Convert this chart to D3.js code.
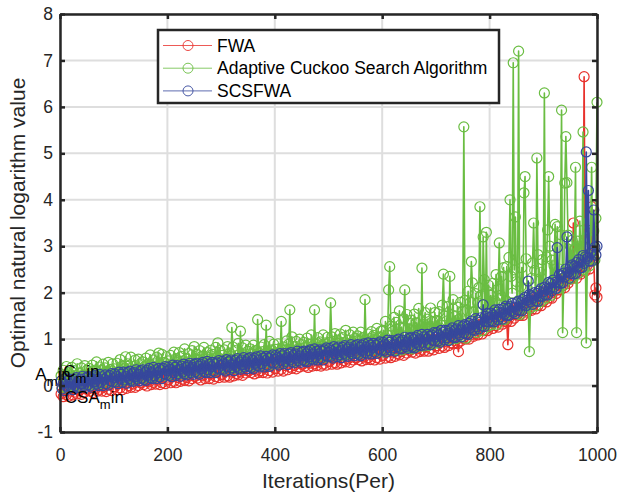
<!DOCTYPE html>
<html>
<head>
<meta charset="utf-8">
<script src="https://cdn.jsdelivr.net/npm/d3@7"></script>
<style>
  body { margin: 0; background: #fff; }
  svg { display: block; font-family: "Liberation Sans", Arial, sans-serif; }
</style>
</head>
<body>
<div class="Canvas"></div>
<script>
// iterations sampled every 2 steps (25 per row below = 50 iterations)
const iterations = d3.range(2, 1001, 2);

// optimal natural logarithm value
const fwaValues = [
  -0.18, -0.03, -0.24, -0.09, 0.01, -0.20, -0.05, -0.23, 0.00, -0.12, -0.02, -0.20, 0.04, -0.14, -0.04, -0.18, 0.03, -0.11, 0.00, -0.19, -0.04, 0.03, -0.14, 0.07, -0.08,
  -0.08, 0.08, -0.12, 0.05, -0.02, -0.15, 0.04, -0.07, 0.09, -0.12, 0.02, -0.08, 0.12, -0.12, 0.07, -0.03, 0.10, -0.13, 0.06, -0.08, 0.13, 0.04, -0.11, 0.11, -0.03,
  -0.03, 0.12, -0.09, 0.06, 0.15, -0.05, 0.10, -0.09, 0.15, 0.03, 0.13, -0.06, 0.19, 0.00, 0.10, -0.04, 0.18, 0.03, 0.14, -0.04, 0.10, 0.17, 0.00, 0.21, 0.06,
  0.06, 0.22, 0.02, 0.19, 0.13, -0.01, 0.18, 0.08, 0.23, 0.02, 0.17, 0.07, 0.26, 0.03, 0.22, 0.12, 0.24, 0.02, 0.21, 0.06, 0.28, 0.19, 0.04, 0.26, 0.12,
  0.12, 0.27, 0.06, 0.21, 0.30, 0.09, 0.25, 0.06, 0.29, 0.17, 0.28, 0.09, 0.33, 0.14, 0.25, 0.11, 0.32, 0.17, 0.29, 0.10, 0.24, 0.31, 0.15, 0.35, 0.20,
  0.20, 0.36, 0.16, 0.33, 0.26, 0.12, 0.32, 0.21, 0.36, 0.15, 0.30, 0.20, 0.39, 0.15, 0.35, 0.25, 0.37, 0.14, 0.34, 0.19, 0.40, 0.31, 0.17, 0.38, 0.24,
  0.24, 0.39, 0.18, 0.33, 0.42, 0.21, 0.37, 0.18, 0.41, 0.29, 0.40, 0.21, 0.45, 0.26, 0.37, 0.23, 0.44, 0.29, 0.41, 0.22, 0.36, 0.43, 0.27, 0.47, 0.32,
  0.32, 0.48, 0.28, 0.45, 0.38, 0.25, 0.44, 0.33, 0.49, 0.28, 0.42, 0.32, 0.52, 0.28, 0.47, 0.38, 0.50, 0.27, 0.46, 0.32, 0.53, 0.44, 0.29, 0.51, 0.37,
  0.37, 0.52, 0.31, 0.46, 0.55, 0.35, 0.50, 0.31, 0.55, 0.43, 0.53, 0.34, 0.59, 0.40, 0.50, 0.37, 0.58, 0.43, 0.54, 0.36, 0.50, 0.57, 0.40, 0.61, 0.46,
  0.46, 0.62, 0.42, 0.59, 0.53, 0.39, 0.58, 0.48, 0.63, 0.42, 0.57, 0.47, 0.66, 0.43, 0.62, 0.52, 0.64, 0.42, 0.61, 0.46, 0.68, 0.59, 0.44, 0.66, 0.52,
  0.52, 0.67, 0.46, 0.61, 0.70, 0.49, 0.65, 0.46, 0.69, 0.57, 0.68, 0.49, 0.73, 0.54, 0.65, 0.51, 0.72, 0.57, 0.69, 0.50, 0.64, 0.71, 0.55, 0.75, 0.60,
  0.60, 0.76, 0.56, 0.73, 0.66, 0.53, 0.72, 0.61, 0.77, 0.56, 0.70, 0.60, 0.80, 0.56, 0.75, 0.66, 0.78, 0.55, 0.74, 0.60, 0.81, 0.72, 0.57, 0.79, 0.65,
  0.65, 0.80, 0.59, 0.74, 0.84, 0.63, 0.79, 0.60, 0.83, 0.72, 0.82, 0.63, 0.88, 0.69, 0.79, 0.66, 0.87, 0.73, 0.84, 0.65, 0.80, 0.87, 0.70, 0.91, 0.76,
  0.76, 0.92, 0.72, 0.90, 0.83, 0.70, 0.89, 0.79, 0.94, 0.73, 0.88, 0.78, 0.98, 0.74, 0.94, 0.84, 0.97, 0.74, 0.93, 0.79, 1.00, 0.92, 0.77, 0.99, 0.85,
  0.86, 1.00, 0.80, 0.95, 1.05, 0.85, 1.00, 0.82, 1.05, 0.94, 1.05, 0.86, 1.11, 0.92, 1.03, 0.90, 1.11, 0.97, 1.08, 0.90, 0.73, 1.12, 0.96, 1.16, 1.02,
  1.03, 1.19, 1.00, 1.18, 1.12, 1.00, 1.20, 1.10, 1.26, 1.06, 1.21, 1.12, 1.32, 1.09, 1.29, 1.20, 1.33, 1.11, 1.32, 1.18, 1.40, 1.32, 1.18, 1.40, 1.27,
  1.28, 1.43, 1.23, 1.39, 1.49, 1.29, 1.44, 1.26, 1.50, 1.39, 1.50, 1.32, 1.57, 1.39, 1.50, 1.37, 0.88, 1.45, 1.57, 1.38, 1.53, 1.61, 1.45, 1.66, 1.52,
  1.53, 1.70, 1.51, 1.69, 1.63, 1.51, 1.71, 1.61, 1.78, 1.58, 1.73, 1.64, 1.85, 1.62, 1.82, 1.74, 1.87, 1.65, 1.85, 1.72, 1.94, 1.86, 1.72, 1.95, 1.82,
  1.84, 2.00, 1.80, 1.97, 2.08, 1.89, 2.06, 1.88, 2.13, 2.03, 2.15, 1.98, 2.23, 2.06, 2.18, 2.06, 2.29, 2.15, 2.28, 2.11, 2.27, 2.36, 2.20, 2.42, 2.29,
  2.31, 2.48, 3.50, 2.48, 2.43, 2.31, 2.52, 2.42, 2.59, 2.40, 2.56, 2.48, 6.65, 2.46, 2.67, 2.59, 2.73, 2.51, 2.72, 3.85, 2.82, 2.75, 1.95, 2.10, 1.90
];

const acsaValues = [
  0.21, -0.06, 0.33, -0.03, 0.16, 0.41, -0.06, 0.28, 0.02, 0.21, 0.39, -0.02, 0.32, -0.03, 0.16, 0.47, 0.02, 0.27, -0.02, 0.38, 0.22, 0.03, 0.43, 0.02, 0.33,
  0.02, 0.37, 0.01, 0.27, 0.44, 0.06, 0.33, 0.03, 0.51, 0.24, 0.06, 0.40, 0.04, 0.32, 0.46, 0.11, 0.38, 0.05, 0.28, 0.50, 0.10, 0.35, 0.07, 0.47, 0.23,
  0.36, 0.09, 0.48, 0.12, 0.30, 0.56, 0.09, 0.42, 0.17, 0.36, 0.62, 0.12, 0.47, 0.12, 0.30, 0.61, 0.17, 0.41, 0.12, 0.55, 0.36, 0.17, 0.57, 0.16, 0.47,
  0.16, 0.51, 0.15, 0.41, 0.59, 0.20, 0.47, 0.18, 0.66, 0.38, 0.20, 0.55, 0.18, 0.47, 0.61, 0.25, 0.70, 0.20, 0.43, 0.67, 0.25, 0.50, 0.22, 0.62, 0.38,
  0.53, 0.23, 0.65, 0.27, 0.46, 0.72, 0.23, 0.58, 0.30, 0.51, 0.71, 0.27, 0.63, 0.25, 0.45, 0.79, 0.31, 0.57, 0.27, 0.69, 0.52, 0.30, 0.75, 0.29, 0.84,
  0.30, 0.67, 0.28, 0.56, 0.75, 0.33, 0.63, 0.30, 0.82, 0.52, 0.34, 0.71, 0.31, 0.60, 0.76, 0.38, 0.67, 0.31, 0.58, 0.82, 0.36, 0.92, 0.34, 0.76, 0.51,
  0.65, 0.35, 0.77, 0.39, 0.58, 0.84, 0.35, 0.70, 0.42, 1.25, 0.83, 0.39, 0.75, 0.37, 0.57, 0.91, 0.43, 1.17, 0.39, 0.81, 0.64, 0.42, 0.87, 0.41, 0.74,
  0.42, 0.79, 0.40, 0.68, 0.87, 0.46, 0.75, 0.42, 1.42, 0.65, 0.46, 0.83, 0.44, 0.73, 0.88, 0.51, 1.30, 0.44, 0.70, 0.95, 0.49, 0.77, 0.46, 0.89, 0.64,
  0.78, 0.48, 0.90, 0.52, 0.71, 1.38, 0.48, 0.83, 0.56, 0.77, 0.96, 0.52, 0.89, 1.63, 0.70, 1.05, 0.57, 0.83, 0.52, 0.95, 0.78, 0.56, 1.00, 0.55, 0.88,
  0.56, 0.93, 0.54, 0.82, 1.02, 0.60, 0.89, 0.57, 1.09, 0.79, 0.61, 1.63, 0.58, 0.88, 1.03, 0.65, 0.94, 0.59, 0.85, 1.09, 0.64, 0.92, 0.61, 1.04, 0.79,
  0.93, 1.78, 1.05, 0.67, 0.86, 1.12, 0.63, 0.98, 0.70, 0.91, 1.11, 0.67, 1.03, 0.65, 0.85, 1.19, 0.71, 0.97, 0.67, 1.09, 0.92, 0.70, 1.15, 0.69, 1.02,
  0.70, 1.07, 0.68, 0.96, 1.15, 0.74, 1.03, 0.70, 1.85, 0.93, 0.74, 1.11, 0.72, 1.01, 1.16, 0.79, 1.08, 0.72, 0.98, 1.23, 0.77, 1.05, 0.74, 1.17, 0.92,
  1.19, 0.72, 1.38, 0.78, 1.09, 2.06, 2.56, 1.28, 0.86, 1.17, 1.47, 0.77, 1.36, 0.76, 1.06, 1.61, 0.84, 1.26, 0.77, 1.44, 2.06, 0.84, 1.53, 0.81, 1.34,
  0.82, 1.41, 0.79, 1.24, 1.54, 0.89, 1.35, 0.84, 1.66, 1.18, 0.89, 2.53, 0.85, 1.32, 1.57, 0.95, 1.43, 0.86, 1.26, 1.67, 0.94, 1.38, 0.90, 1.57, 1.17,
  1.40, 0.92, 1.59, 0.99, 1.30, 1.73, 2.40, 1.50, 1.06, 1.39, 1.70, 0.99, 2.35, 0.99, 1.30, 1.85, 1.08, 1.50, 1.01, 1.69, 1.42, 1.09, 1.79, 1.06, 1.60,
  5.57, 1.84, 1.02, 1.62, 2.03, 1.17, 1.79, 2.67, 2.21, 1.58, 1.19, 1.98, 1.14, 1.78, 2.11, 3.85, 1.94, 1.18, 3.20, 2.28, 1.31, 3.30, 1.27, 2.16, 1.64,
  1.94, 1.31, 2.20, 1.41, 1.82, 2.39, 1.32, 2.08, 3.07, 1.94, 2.35, 1.43, 2.54, 1.42, 1.83, 2.56, 1.55, 2.76, 4.00, 2.35, 1.99, 6.95, 2.49, 3.63, 2.24,
  1.56, 7.20, 1.53, 2.13, 2.54, 1.68, 4.15, 4.50, 2.73, 2.10, 1.71, 0.73, 1.67, 2.31, 2.64, 3.50, 2.48, 1.72, 4.90, 2.82, 1.85, 2.44, 1.81, 2.71, 2.19,
  6.30, 1.88, 2.77, 3.35, 4.50, 3.00, 1.94, 2.70, 2.13, 2.58, 3.47, 2.09, 3.42, 2.09, 2.51, 3.25, 5.93, 1.14, 2.16, 4.36, 5.36, 4.37, 3.24, 2.29, 3.01,
  2.34, 3.13, 2.31, 2.92, 4.70, 1.14, 3.11, 2.43, 3.54, 2.92, 2.54, 5.46, 2.50, 3.15, 0.92, 2.69, 3.34, 2.58, 3.14, 4.70, 2.73, 3.33, 2.70, 3.60, 6.10
];

const scsfwaValues = [
  0.10, -0.07, 0.05, -0.11, 0.15, -0.01, 0.09, -0.07, 0.14, -0.03, 0.06, -0.09, 0.13, 0.00, 0.17, -0.04, 0.10, -0.05, 0.14, 0.04, 0.20, 0.00, 0.10, -0.04, 0.18,
  0.02, 0.20, -0.01, 0.14, -0.04, 0.19, 0.08, 0.22, 0.03, 0.14, 0.00, 0.24, 0.07, 0.19, 0.00, 0.14, 0.23, 0.04, 0.19, 0.01, 0.22, 0.10, 0.26, 0.08, 0.17,
  0.25, 0.08, 0.20, 0.04, 0.29, 0.14, 0.24, 0.07, 0.29, 0.12, 0.20, 0.05, 0.28, 0.15, 0.31, 0.11, 0.25, 0.09, 0.28, 0.19, 0.34, 0.14, 0.24, 0.10, 0.32,
  0.16, 0.34, 0.13, 0.28, 0.11, 0.33, 0.22, 0.37, 0.17, 0.28, 0.15, 0.39, 0.21, 0.34, 0.15, 0.28, 0.37, 0.19, 0.34, 0.15, 0.37, 0.25, 0.41, 0.23, 0.32,
  0.40, 0.22, 0.35, 0.19, 0.44, 0.28, 0.39, 0.22, 0.43, 0.26, 0.35, 0.20, 0.42, 0.29, 0.46, 0.25, 0.39, 0.23, 0.43, 0.33, 0.48, 0.28, 0.39, 0.24, 0.46,
  0.30, 0.48, 0.27, 0.42, 0.24, 0.46, 0.36, 0.50, 0.30, 0.41, 0.28, 0.52, 0.34, 0.46, 0.28, 0.41, 0.50, 0.31, 0.47, 0.28, 0.49, 0.37, 0.54, 0.35, 0.44,
  0.52, 0.35, 0.47, 0.31, 0.56, 0.40, 0.51, 0.34, 0.55, 0.38, 0.47, 0.32, 0.54, 0.41, 0.58, 0.37, 0.51, 0.35, 0.55, 0.45, 0.60, 0.40, 0.51, 0.36, 0.58,
  0.42, 0.60, 0.39, 0.54, 0.36, 0.59, 0.48, 0.62, 0.43, 0.54, 0.40, 0.64, 0.47, 0.59, 0.40, 0.54, 0.63, 0.44, 0.59, 0.41, 0.62, 0.50, 0.66, 0.48, 0.57,
  0.65, 0.48, 0.60, 0.44, 0.69, 0.54, 0.64, 0.47, 0.69, 0.52, 0.60, 0.45, 0.68, 0.55, 0.71, 0.51, 0.65, 0.49, 0.68, 0.59, 0.74, 0.54, 0.64, 0.50, 0.72,
  0.56, 0.74, 0.53, 0.68, 0.51, 0.73, 0.62, 0.77, 0.57, 0.68, 0.55, 0.79, 0.61, 0.74, 0.55, 0.68, 0.77, 0.59, 0.74, 0.55, 0.77, 0.65, 0.81, 0.63, 0.72,
  0.80, 0.63, 0.75, 0.59, 0.84, 0.68, 0.79, 0.62, 0.83, 0.66, 0.75, 0.60, 0.82, 0.69, 0.86, 0.65, 0.79, 0.63, 0.83, 0.73, 0.88, 0.68, 0.79, 0.64, 0.86,
  0.70, 0.88, 0.67, 0.82, 0.64, 0.87, 0.76, 0.90, 0.71, 0.82, 0.68, 0.92, 0.75, 0.87, 0.68, 0.82, 0.91, 0.72, 0.87, 0.69, 0.90, 0.78, 0.94, 0.76, 0.85,
  0.93, 0.76, 0.88, 0.72, 0.98, 0.82, 0.93, 0.76, 0.97, 0.81, 0.89, 0.74, 0.97, 0.84, 1.00, 0.80, 0.94, 0.79, 0.98, 0.88, 1.04, 0.84, 0.94, 0.80, 1.02,
  0.86, 1.04, 0.83, 0.99, 0.81, 1.04, 0.93, 1.08, 0.88, 0.99, 0.86, 1.10, 0.93, 1.05, 0.87, 1.00, 1.10, 0.91, 1.06, 0.88, 1.09, 0.98, 1.14, 0.96, 1.05,
  1.14, 0.96, 1.09, 0.93, 1.19, 1.04, 1.14, 0.98, 1.19, 1.03, 1.12, 0.97, 1.20, 1.07, 1.24, 1.04, 1.18, 1.03, 1.22, 1.13, 1.29, 1.09, 1.20, 1.05, 1.28,
  1.13, 1.31, 1.11, 1.27, 1.10, 1.34, 1.24, 1.39, 1.20, 1.32, 1.19, 1.44, 1.27, 1.40, 1.22, 1.36, 1.46, 1.28, 1.74, 1.27, 1.49, 1.38, 1.55, 1.37, 1.47,
  1.56, 1.39, 1.52, 1.37, 1.63, 1.48, 1.58, 1.42, 1.64, 1.48, 1.57, 1.43, 1.66, 1.54, 1.71, 1.51, 1.66, 1.51, 1.71, 1.61, 1.77, 1.58, 1.69, 1.55, 1.78,
  1.63, 1.82, 1.62, 1.78, 1.61, 1.85, 1.75, 1.90, 1.72, 1.84, 2.25, 1.96, 1.80, 1.93, 1.75, 1.90, 2.00, 1.82, 1.98, 1.81, 2.03, 1.92, 2.09, 1.92, 2.02,
  2.12, 1.96, 2.09, 1.95, 2.22, 2.08, 2.20, 2.04, 2.27, 2.12, 2.22, 2.09, 2.97, 2.21, 2.39, 2.20, 2.36, 2.21, 2.42, 2.34, 2.51, 3.20, 2.44, 2.31, 2.55,
  2.41, 2.60, 2.40, 2.57, 2.41, 2.65, 2.56, 2.71, 2.53, 2.66, 2.54, 2.80, 2.63, 2.77, 5.03, 2.74, 4.20, 2.68, 2.85, 2.68, 2.91, 3.78, 2.98, 2.81, 3.00
];

const seriesNames = ['FWA', 'Adaptive Cuckoo Search Algorithm', 'SCSFWA'];
const seriesColors = ['#e8312c', '#6abd42', '#37489c'];
const xTicks = [0, 200, 400, 600, 800, 1000];
const yTicks = [-1, 0, 1, 2, 3, 4, 5, 6, 7, 8];

// stray TeX labels from the original figure: A_min, C_min, CSA_min
const noteBase = ['A', 'C', 'CSA'];
const noteX = [-46, 6, 9];
const noteY = [0.12, 0.19, -0.37];

const width = 619;
const height = 493;
const plotLeft = 60, plotRight = 597, plotTop = 14, plotBottom = 432;
const tickFont = '17.5px';
const labelFont = '21px';
const axisColor = '#262626';

const x = d3.scaleLinear().domain([0, 1000]).range([plotLeft, plotRight]);
const y = d3.scaleLinear().domain([-1, 8]).range([plotBottom, plotTop]);

const svg = d3.select('.Canvas').append('svg').attr('width', width).attr('height', height);

// grid
const grid = svg.append('g');
grid.selectAll('line.gx').data(xTicks).enter().append('line')
  .attr('x1', (d) => x(d)).attr('x2', (d) => x(d))
  .attr('y1', plotTop).attr('y2', plotBottom)
  .attr('stroke', '#dedede').attr('stroke-width', 2);
grid.selectAll('line.gy').data(yTicks).enter().append('line')
  .attr('x1', plotLeft).attr('x2', plotRight)
  .attr('y1', (d) => y(d)).attr('y2', (d) => y(d))
  .attr('stroke', '#dedede').attr('stroke-width', 2);

// series, red first, blue on top
const allSeries = [fwaValues, acsaValues, scsfwaValues];
const line = d3.line().x((d, i) => x(iterations[i])).y((d) => y(d));
for (let s = 0; s < allSeries.length; s++) {
  const g = svg.append('g');
  g.append('path')
    .datum(allSeries[s])
    .attr('d', line)
    .attr('fill', 'none')
    .attr('stroke', seriesColors[s])
    .attr('stroke-width', 1.6)
    .attr('stroke-linejoin', 'round');
  g.selectAll('circle').data(allSeries[s]).enter().append('circle')
    .attr('cx', (d, i) => x(iterations[i]))
    .attr('cy', (d) => y(d))
    .attr('r', 5)
    .attr('fill', 'none')
    .attr('stroke', seriesColors[s])
    .attr('stroke-width', 1.2);
}

// axes (box with inward ticks)
function styleAxis(g) {
  g.select('.domain').attr('stroke', axisColor).attr('stroke-width', 2.5);
  g.selectAll('.tick line').attr('stroke', axisColor).attr('stroke-width', 2.5);
  g.selectAll('.tick text').attr('fill', axisColor).style('font-size', tickFont)
    .style('font-family', '"Liberation Sans", Arial, sans-serif');
}
const plainLabel = (d) => String(d);
svg.append('g').attr('transform', `translate(0,${plotBottom})`)
  .call(d3.axisBottom(x).tickValues(xTicks).tickFormat(plainLabel).tickSize(-5).tickSizeOuter(0).tickPadding(17))
  .call(styleAxis);
svg.append('g').attr('transform', `translate(0,${plotTop})`)
  .call(d3.axisTop(x).tickValues(xTicks).tickSize(-5).tickSizeOuter(0).tickFormat(''))
  .call(styleAxis);
svg.append('g').attr('transform', `translate(${plotLeft},0)`)
  .call(d3.axisLeft(y).tickValues(yTicks).tickFormat(plainLabel).tickSize(-5).tickSizeOuter(0).tickPadding(7))
  .call(styleAxis);
svg.append('g').attr('transform', `translate(${plotRight},0)`)
  .call(d3.axisRight(y).tickValues(yTicks).tickSize(-5).tickSizeOuter(0).tickFormat(''))
  .call(styleAxis);

// axis labels
svg.append('text')
  .attr('x', (plotLeft + plotRight) / 2).attr('y', 488)
  .attr('text-anchor', 'middle')
  .attr('fill', axisColor).style('font-size', labelFont)
  .text('Iterations(Per)');
svg.append('text')
  .attr('transform', `translate(25,${(plotTop + plotBottom) / 2}) rotate(-90)`)
  .attr('text-anchor', 'middle')
  .attr('fill', axisColor).style('font-size', labelFont)
  .text('Optimal natural logarithm value');

// stray min labels
for (let i = 0; i < noteBase.length; i++) {
  const t = svg.append('text')
    .attr('x', x(noteX[i])).attr('y', y(noteY[i]))
    .attr('fill', '#000').style('font-size', '17px');
  t.append('tspan').text(noteBase[i]);
  t.append('tspan').attr('dy', 6).style('font-size', '13px').text('m');
  t.append('tspan').attr('dy', -6).text('in');
}

// legend
const legend = svg.append('g');
legend.append('rect')
  .attr('x', 158).attr('y', 30).attr('width', 341).attr('height', 73)
  .attr('fill', '#fff').attr('stroke', axisColor).attr('stroke-width', 2.5);
seriesNames.forEach((name, i) => {
  const cy = 45.5 + i * 22.7;
  legend.append('line')
    .attr('x1', 163).attr('x2', 212).attr('y1', cy).attr('y2', cy)
    .attr('stroke', seriesColors[i]).attr('stroke-width', 1).attr('stroke-opacity', 0.8);
  legend.append('circle')
    .attr('cx', 188).attr('cy', cy).attr('r', 5)
    .attr('fill', 'none').attr('stroke', seriesColors[i]).attr('stroke-width', 0.9);
  legend.append('text')
    .attr('x', 217).attr('y', cy + 6)
    .attr('fill', '#000').style('font-size', tickFont)
    .text(name);
});
</script>
</body>
</html>
